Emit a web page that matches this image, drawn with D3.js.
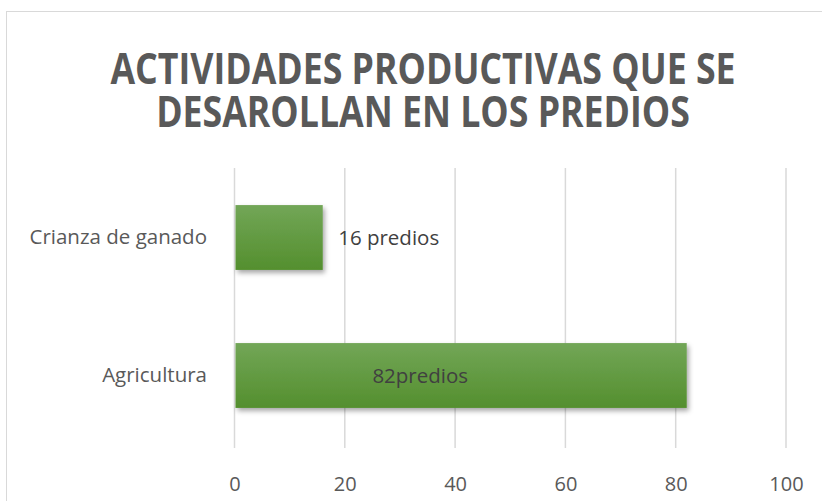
<!DOCTYPE html>
<html>
<head>
<meta charset="utf-8">
<script src="https://cdn.jsdelivr.net/npm/d3@7"></script>
<style>
  body { margin: 0; background: #fff; }
  svg text { font-family: "Open Sans", "Noto Sans", sans-serif; }
</style>
</head>
<body>
<div class="container"></div>
<script>
let width = 822
let height = 501
let margin = { left: 234.5, right: 36, top: 168, bottom: 53 }

const titleLines = ['ACTIVIDADES PRODUCTIVAS QUE SE', 'DESAROLLAN EN LOS PREDIOS']
const categories = ['Crianza de ganado', 'Agricultura']
const values = [16, 82]
const labels = ['16 predios', '82predios']
const labelPos = [18.8, 25]
const xTicks = [0, 20, 40, 60, 80, 100]

let svg = d3.select('.container')
    .append('svg')
    .attr('width', width)
    .attr('height', height)

let defs = svg.append('defs')
let grad = defs.append('linearGradient')
    .attr('id', 'barGrad')
    .attr('x1', 0).attr('y1', 0).attr('x2', 0).attr('y2', 1)
grad.append('stop').attr('offset', '0%').attr('stop-color', '#72a657')
grad.append('stop').attr('offset', '100%').attr('stop-color', '#548f2e')

let shadow = defs.append('filter')
    .attr('id', 'shadow')
    .attr('x', '-10%').attr('y', '-20%').attr('width', '120%').attr('height', '150%')
shadow.append('feDropShadow')
    .attr('dx', 2).attr('dy', 3)
    .attr('stdDeviation', 2.5)
    .attr('flood-color', '#000')
    .attr('flood-opacity', 0.35)

// chart border
svg.append('rect')
    .attr('x', 6.5).attr('y', 11.5)
    .attr('width', 840).attr('height', 500)
    .attr('fill', 'none')
    .attr('stroke', '#d9d9d9')
    .attr('stroke-width', 1)

// title: one text, two lines, squeezed to look like a narrow bold face
let title = svg.append('text')
    .attr('transform', 'translate(423,84) scale(0.83,1)')
    .attr('text-anchor', 'middle')
    .attr('fill', '#595959')
    .attr('font-weight', 'bold')
    .attr('font-size', 43)

title.selectAll('tspan')
    .data(titleLines)
    .enter()
    .append('tspan')
    .attr('x', 0)
    .attr('y', (d, i) => i * 43)
    .text(d => d)

let xScale = d3.scaleLinear()
    .domain([0, 100])
    .range([margin.left, 786])

let yScale = d3.scaleBand()
    .domain(categories)
    .range([168.5, 444.5])
    .paddingInner(0.53)
    .paddingOuter(0.265)

// gridlines
svg.append('g')
    .selectAll('line')
    .data(xTicks)
    .enter()
    .append('line')
    .attr('x1', d => xScale(d))
    .attr('x2', d => xScale(d))
    .attr('y1', margin.top)
    .attr('y2', height - margin.bottom)
    .attr('stroke', '#d9d9d9')
    .attr('stroke-width', 1.5)

// x axis labels
let xAxis = d3.axisBottom(xScale)
    .tickValues(xTicks)
    .tickSize(0)
    .tickPadding(29)

let gx = svg.append('g')
    .attr('transform', `translate(0,${height - margin.bottom})`)
    .call(xAxis)
gx.select('.domain').remove()
gx.selectAll('text')
    .attr('font-size', 20)
    .attr('fill', '#595959')
    .attr('font-family', '"Open Sans", sans-serif')

// y axis labels
let yAxis = d3.axisLeft(yScale)
    .tickSize(0)
    .tickPadding(27.5)

let gy = svg.append('g')
    .attr('transform', `translate(${margin.left},0)`)
    .call(yAxis)
gy.select('.domain').remove()
gy.selectAll('text')
    .attr('font-size', 20.5)
    .attr('fill', '#595959')
    .attr('font-family', '"Open Sans", sans-serif')

// bars
svg.append('g')
    .selectAll('rect')
    .data(values)
    .enter()
    .append('rect')
    .attr('x', xScale(0) + 1)
    .attr('y', (d, i) => yScale(categories[i]))
    .attr('width', d => xScale(d) - xScale(0) - 1)
    .attr('height', yScale.bandwidth())
    .attr('fill', 'url(#barGrad)')
    .attr('filter', 'url(#shadow)')

// data labels
svg.append('g')
    .selectAll('text')
    .data(labels)
    .enter()
    .append('text')
    .attr('x', (d, i) => xScale(labelPos[i]))
    .attr('y', (d, i) => yScale(categories[i]) + yScale.bandwidth() / 2)
    .attr('dy', '0.35em')
    .attr('font-size', 20.5)
    .attr('fill', '#404040')
    .text(d => d)
</script>
</body>
</html>
